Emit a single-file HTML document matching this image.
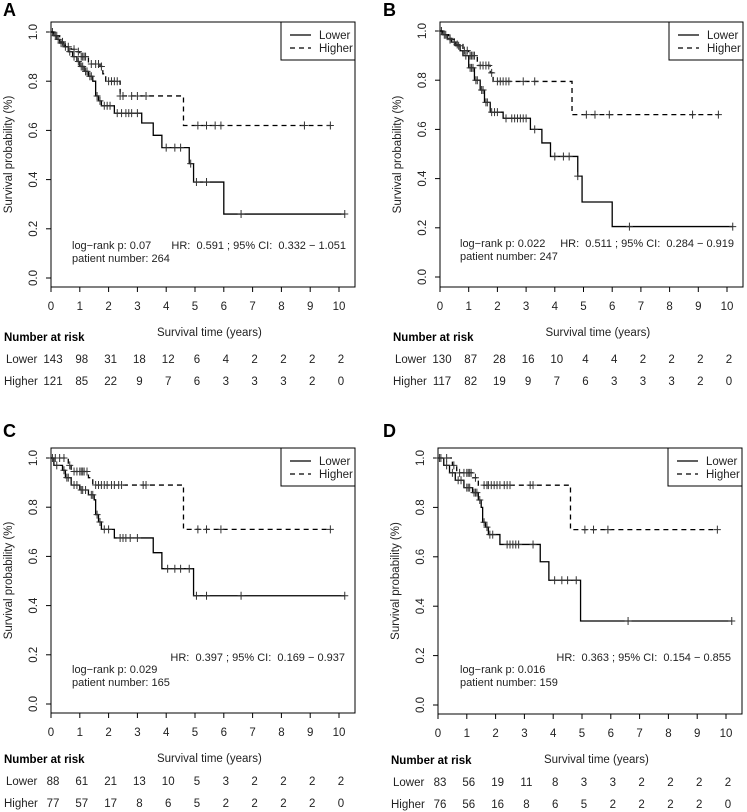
<!DOCTYPE html>
<html><head><meta charset="utf-8"><style>
html,body{margin:0;padding:0;background:#fff}
svg{display:block;font-family:"Liberation Sans",Arial,sans-serif}
</style></head><body>
<svg id="fig" width="747" height="812" viewBox="0 0 747 812" xmlns="http://www.w3.org/2000/svg"></svg>
<script>
// ---------- Panel A data ----------
const aLowerT=[0.1,0.2,0.3,0.45,0.6,0.75,0.9,1.0,1.15,1.3,1.45,1.55,1.65,1.75,2.2,3.15,3.55,3.85,4.8,4.95,6.0];
const aLowerS=[0.985,0.97,0.955,0.94,0.92,0.9,0.88,0.86,0.84,0.82,0.8,0.74,0.72,0.70,0.67,0.63,0.58,0.53,0.465,0.39,0.26];
const aLowerEnd=10.2;
const aHigherT=[0.1,0.3,0.5,0.7,0.9,1.0,1.3,1.7,1.8,1.9,2.4,4.6];
const aHigherS=[0.985,0.96,0.94,0.93,0.92,0.90,0.87,0.86,0.83,0.80,0.74,0.62];
const aHigherEnd=9.7;
const aLowerCens=[0.05,0.15,0.25,0.35,0.5,0.65,0.8,0.95,1.05,1.1,1.2,1.25,1.35,1.4,1.6,1.7,1.85,1.95,2.05,2.3,2.45,2.6,2.7,2.8,3.0,4.0,4.3,4.5,4.85,5.05,5.4,6.6,10.2];
const aHigherCens=[0.2,0.4,0.6,0.8,0.95,1.05,1.1,1.15,1.2,1.4,1.55,1.65,1.75,2.0,2.1,2.2,2.3,2.4,2.5,2.8,3.0,3.3,5.1,5.4,5.7,5.9,8.8,9.7];
const aRiskLower=[143,98,31,18,12,6,4,2,2,2,2];
const aRiskHigher=[121,85,22,9,7,6,3,3,3,2,0];
// ---------- Panel B data ----------
const bLowerT=[0.1,0.25,0.4,0.55,0.7,0.8,1.0,1.2,1.4,1.55,1.75,2.2,3.15,3.55,3.85,4.8,4.95,6.0];
const bLowerS=[0.985,0.97,0.955,0.94,0.92,0.9,0.85,0.80,0.76,0.71,0.67,0.645,0.60,0.545,0.49,0.41,0.305,0.205];
const bLowerEnd=10.2;
const bHigherT=[0.1,0.3,0.5,0.8,1.0,1.3,1.75,1.85,4.6];
const bHigherS=[0.985,0.965,0.945,0.92,0.90,0.86,0.83,0.795,0.66];
const bHigherEnd=9.7;
const bLowerCens=[0.05,0.2,0.35,0.5,0.65,0.9,1.05,1.1,1.15,1.25,1.3,1.45,1.5,1.6,1.65,1.8,1.9,2.0,2.3,2.5,2.6,2.7,2.8,2.9,3.0,3.3,4.0,4.3,4.5,4.8,6.6,10.2];
const bHigherCens=[0.15,0.35,0.6,0.85,0.95,1.05,1.1,1.15,1.2,1.4,1.5,1.6,1.7,1.8,2.0,2.1,2.2,2.3,2.4,2.9,3.3,5.1,5.4,5.9,8.8,9.7];
const bRiskLower=[130,87,28,16,10,4,4,2,2,2,2];
const bRiskHigher=[117,82,19,9,7,6,3,3,3,2,0];
// ---------- Panel C data ----------
const cLowerT=[0.1,0.4,0.5,0.7,1.0,1.3,1.5,1.55,1.65,1.75,2.2,3.55,3.85,4.95];
const cLowerS=[0.97,0.95,0.92,0.89,0.87,0.85,0.83,0.77,0.74,0.71,0.675,0.615,0.55,0.44];
const cLowerEnd=10.2;
const cHigherT=[0.6,0.7,1.3,1.45,4.6];
const cHigherS=[0.97,0.945,0.92,0.89,0.71];
const cHigherEnd=9.7;
const cLowerCens=[0.05,0.2,0.45,0.55,0.6,0.8,0.9,1.05,1.1,1.2,1.4,1.45,1.6,1.7,1.85,2.0,2.4,2.5,2.6,2.75,3.0,4.05,4.3,4.5,4.8,5.05,5.4,6.6,10.2];
const cHigherCens=[0.15,0.3,0.45,0.65,0.8,0.9,1.0,1.05,1.1,1.15,1.25,1.55,1.65,1.75,1.85,1.95,2.1,2.2,2.35,2.45,3.2,3.3,5.1,5.4,5.9,9.7];
const cRiskLower=[88,61,21,13,10,5,3,2,2,2,2];
const cRiskHigher=[77,57,17,8,6,5,2,2,2,2,0];
// ---------- Panel D data ----------
const dLowerT=[0.2,0.4,0.6,0.9,1.2,1.4,1.5,1.55,1.65,1.75,2.15,3.55,3.85,4.95];
const dLowerS=[0.97,0.94,0.91,0.88,0.86,0.83,0.80,0.74,0.72,0.69,0.65,0.58,0.505,0.34];
const dLowerEnd=10.2;
const dHigherT=[0.5,0.65,1.2,1.4,4.6];
const dHigherS=[0.97,0.94,0.92,0.89,0.71];
const dHigherEnd=9.7;
const dLowerCens=[0.05,0.3,0.5,0.7,0.8,1.0,1.05,1.1,1.25,1.3,1.35,1.45,1.6,1.7,1.8,1.9,2.4,2.5,2.6,2.7,2.8,3.3,4.05,4.3,4.5,4.8,6.6,10.2];
const dHigherCens=[0.1,0.3,0.55,0.75,0.9,1.0,1.05,1.1,1.15,1.3,1.6,1.7,1.75,1.85,1.95,2.05,2.15,2.3,2.4,2.5,3.2,3.3,5.1,5.4,5.9,9.7];
const dRiskLower=[83,56,19,11,8,3,3,2,2,2,2];
const dRiskHigher=[76,56,16,8,6,5,2,2,2,2,0];

const xTicks=[0,1,2,3,4,5,6,7,8,9,10];
const yTicks=[0,0.2,0.4,0.6,0.8,1.0];

const NS="http://www.w3.org/2000/svg";
const svg=document.getElementById('fig');
function mk(tag,attrs,parent,text){const e=document.createElementNS(NS,tag);for(const k in attrs)e.setAttribute(k,attrs[k]);if(text!==undefined)e.textContent=text;(parent||svg).appendChild(e);return e;}

function survAt(T,S,t){let s=1;for(let i=0;i<T.length;i++){if(T[i]<=t)s=S[i];}return s;}

function panel(cfg,lT,lS,lEnd,hT,hS,hEnd,lC,hC,rL,rH){
  const g=mk('g',{});
  
  
  const X=t=>cfg.x0+(cfg.x10-cfg.x0)*t/10;
  const Y=s=>cfg.y0+(cfg.y1-cfg.y0)*s;
  const ro=cfg.ro;
  const lab=mk('text',{x:cfg.lx,y:cfg.ly,'font-size':18,'font-weight':'bold'},g,cfg.label);
  
  const box=mk('rect',{x:cfg.bl,y:cfg.bt,width:cfg.br-cfg.bl,height:cfg.bb-cfg.bt,fill:'none',stroke:'#000','stroke-width':1},g);
  
  xTicks.forEach(t=>{
    mk('line',{x1:X(t),x2:X(t),y1:cfg.bb,y2:cfg.bb+5,stroke:'#000'},g);
    const tl=mk('text',{x:X(t),y:cfg.bb+23,'font-size':11.5,'text-anchor':'middle',fill:'#222'},g,String(t));
    
  });
  yTicks.forEach(v=>{
    mk('line',{x1:cfg.bl-5,x2:cfg.bl,y1:Y(v),y2:Y(v),stroke:'#000'},g);
    const tx=cfg.bl-14;
    const tl=mk('text',{x:tx,y:Y(v),'font-size':11.5,'text-anchor':'middle',fill:'#222',transform:`rotate(-90 ${tx} ${Y(v)})`},g,v.toFixed(1));
    
  });
  const yx=cfg.bl-39;
  const yt=mk('text',{x:yx,y:(cfg.bt+cfg.bb)/2,'font-size':11.5,'text-anchor':'middle',fill:'#222',transform:`rotate(-90 ${yx} ${(cfg.bt+cfg.bb)/2})`},g,'Survival probability (%)');
  
  const xt=mk('text',{x:X(5.5),y:cfg.bb+49,'font-size':11.5,'text-anchor':'middle',fill:'#222'},g,'Survival time (years)');
  
  function curve(T,S,end,dash,name,C){
    let d=`M${X(0)},${Y(1)}`;
    for(let i=0;i<T.length;i++){d+=` H${X(T[i])} V${Y(S[i])}`;}
    d+=` H${X(end)}`;
    const p=mk('path',{d:d,fill:'none',stroke:'#000','stroke-width':1.3,'stroke-dasharray':dash},g);
    
    C.forEach(t=>{
      const v=survAt(T,S,t);
      const m=mk('path',{d:`M${X(t)},${Y(v)-4}V${Y(v)+4}M${X(t)-3.5},${Y(v)}H${X(t)+3.5}`,stroke:'#333','stroke-width':1},g);
      
    });
  }
  curve(lT,lS,lEnd,'none','lower',lC);
  curve(hT,hS,hEnd,'5,4','higher',hC);
  const lg=mk('g',{},g);
  
  mk('rect',{x:cfg.br-74,y:cfg.bt,width:74,height:38,fill:'#fff',stroke:'#000'},lg);
  mk('line',{x1:cfg.br-65,x2:cfg.br-44,y1:cfg.bt+13,y2:cfg.bt+13,stroke:'#000','stroke-width':1.3},lg);
  mk('line',{x1:cfg.br-65,x2:cfg.br-44,y1:cfg.bt+26,y2:cfg.bt+26,stroke:'#000','stroke-width':1.3,'stroke-dasharray':'5,4'},lg);
  mk('text',{x:cfg.br-36,y:cfg.bt+17,'font-size':11.5,fill:'#222'},lg,'Lower');
  mk('text',{x:cfg.br-36,y:cfg.bt+30,'font-size':11.5,fill:'#222'},lg,'Higher');
  const s1=mk('text',{x:cfg.lrx,y:cfg.lry,'font-size':11,fill:'#222'},g,'log\u2212rank p: '+cfg.p);
  
  const s2=mk('text',{x:cfg.lrx,y:cfg.lry+13,'font-size':11,fill:'#222'},g,'patient number: '+cfg.n);
  
  const s3=mk('text',{x:cfg.hrx,y:cfg.hry,'font-size':11,'text-anchor':'end',fill:'#222'},g,cfg.hr);
  s3.setAttribute('style','white-space:pre');
  
  const rt=mk('g',{},g);
  
  mk('text',{x:cfg.bl-47,y:cfg.bb+54+ro,'font-size':11.5,'font-weight':'bold'},rt,'Number at risk');
  mk('text',{x:cfg.bl-45,y:cfg.bb+76+ro,'font-size':11.5,fill:'#222'},rt,'Lower');
  mk('text',{x:cfg.bl-47,y:cfg.bb+98+ro,'font-size':11.5,fill:'#222'},rt,'Higher');
  xTicks.forEach((t,i)=>{
    const a=mk('text',{x:X(t)+2,y:cfg.bb+76+ro,'font-size':11.5,'text-anchor':'middle',fill:'#222'},rt,String(rL[i]));
    
    const b=mk('text',{x:X(t)+2,y:cfg.bb+98+ro,'font-size':11.5,'text-anchor':'middle',fill:'#222'},rt,String(rH[i]));
    
  });
}
panel({label:'A',lx:3,ly:16,ro:0,bl:51,br:355,bt:22,bb:287,x0:51,x10:339,y1:32,y0:278,p:'0.07',n:'264',hr:'HR:  0.591 ; 95% CI:  0.332 \u2212 1.051',lrx:72,lry:249,hrx:346,hry:249},
  aLowerT,aLowerS,aLowerEnd,aHigherT,aHigherS,aHigherEnd,aLowerCens,aHigherCens,aRiskLower,aRiskHigher);
panel({label:'B',lx:383,ly:16,ro:0,bl:440,br:743,bt:22,bb:287,x0:440,x10:727,y1:31,y0:277,p:'0.022',n:'247',hr:'HR:  0.511 ; 95% CI:  0.284 \u2212 0.919',lrx:460,lry:247,hrx:734,hry:247},
  bLowerT,bLowerS,bLowerEnd,bHigherT,bHigherS,bHigherEnd,bLowerCens,bHigherCens,bRiskLower,bRiskHigher);
panel({label:'C',lx:3,ly:437,ro:-4,bl:51,br:355,bt:448,bb:713,x0:51,x10:339,y1:458,y0:704,p:'0.029',n:'165',hr:'HR:  0.397 ; 95% CI:  0.169 \u2212 0.937',lrx:72,lry:673,hrx:345,hry:661},
  cLowerT,cLowerS,cLowerEnd,cHigherT,cHigherS,cHigherEnd,cLowerCens,cHigherCens,cRiskLower,cRiskHigher);
panel({label:'D',lx:383,ly:437,ro:-4,bl:438,br:742,bt:448,bb:714,x0:438,x10:726,y1:458,y0:705,p:'0.016',n:'159',hr:'HR:  0.363 ; 95% CI:  0.154 \u2212 0.855',lrx:460,lry:673,hrx:731,hry:661},
  dLowerT,dLowerS,dLowerEnd,dHigherT,dHigherS,dHigherEnd,dLowerCens,dHigherCens,dRiskLower,dRiskHigher);
</script>
</body></html>
